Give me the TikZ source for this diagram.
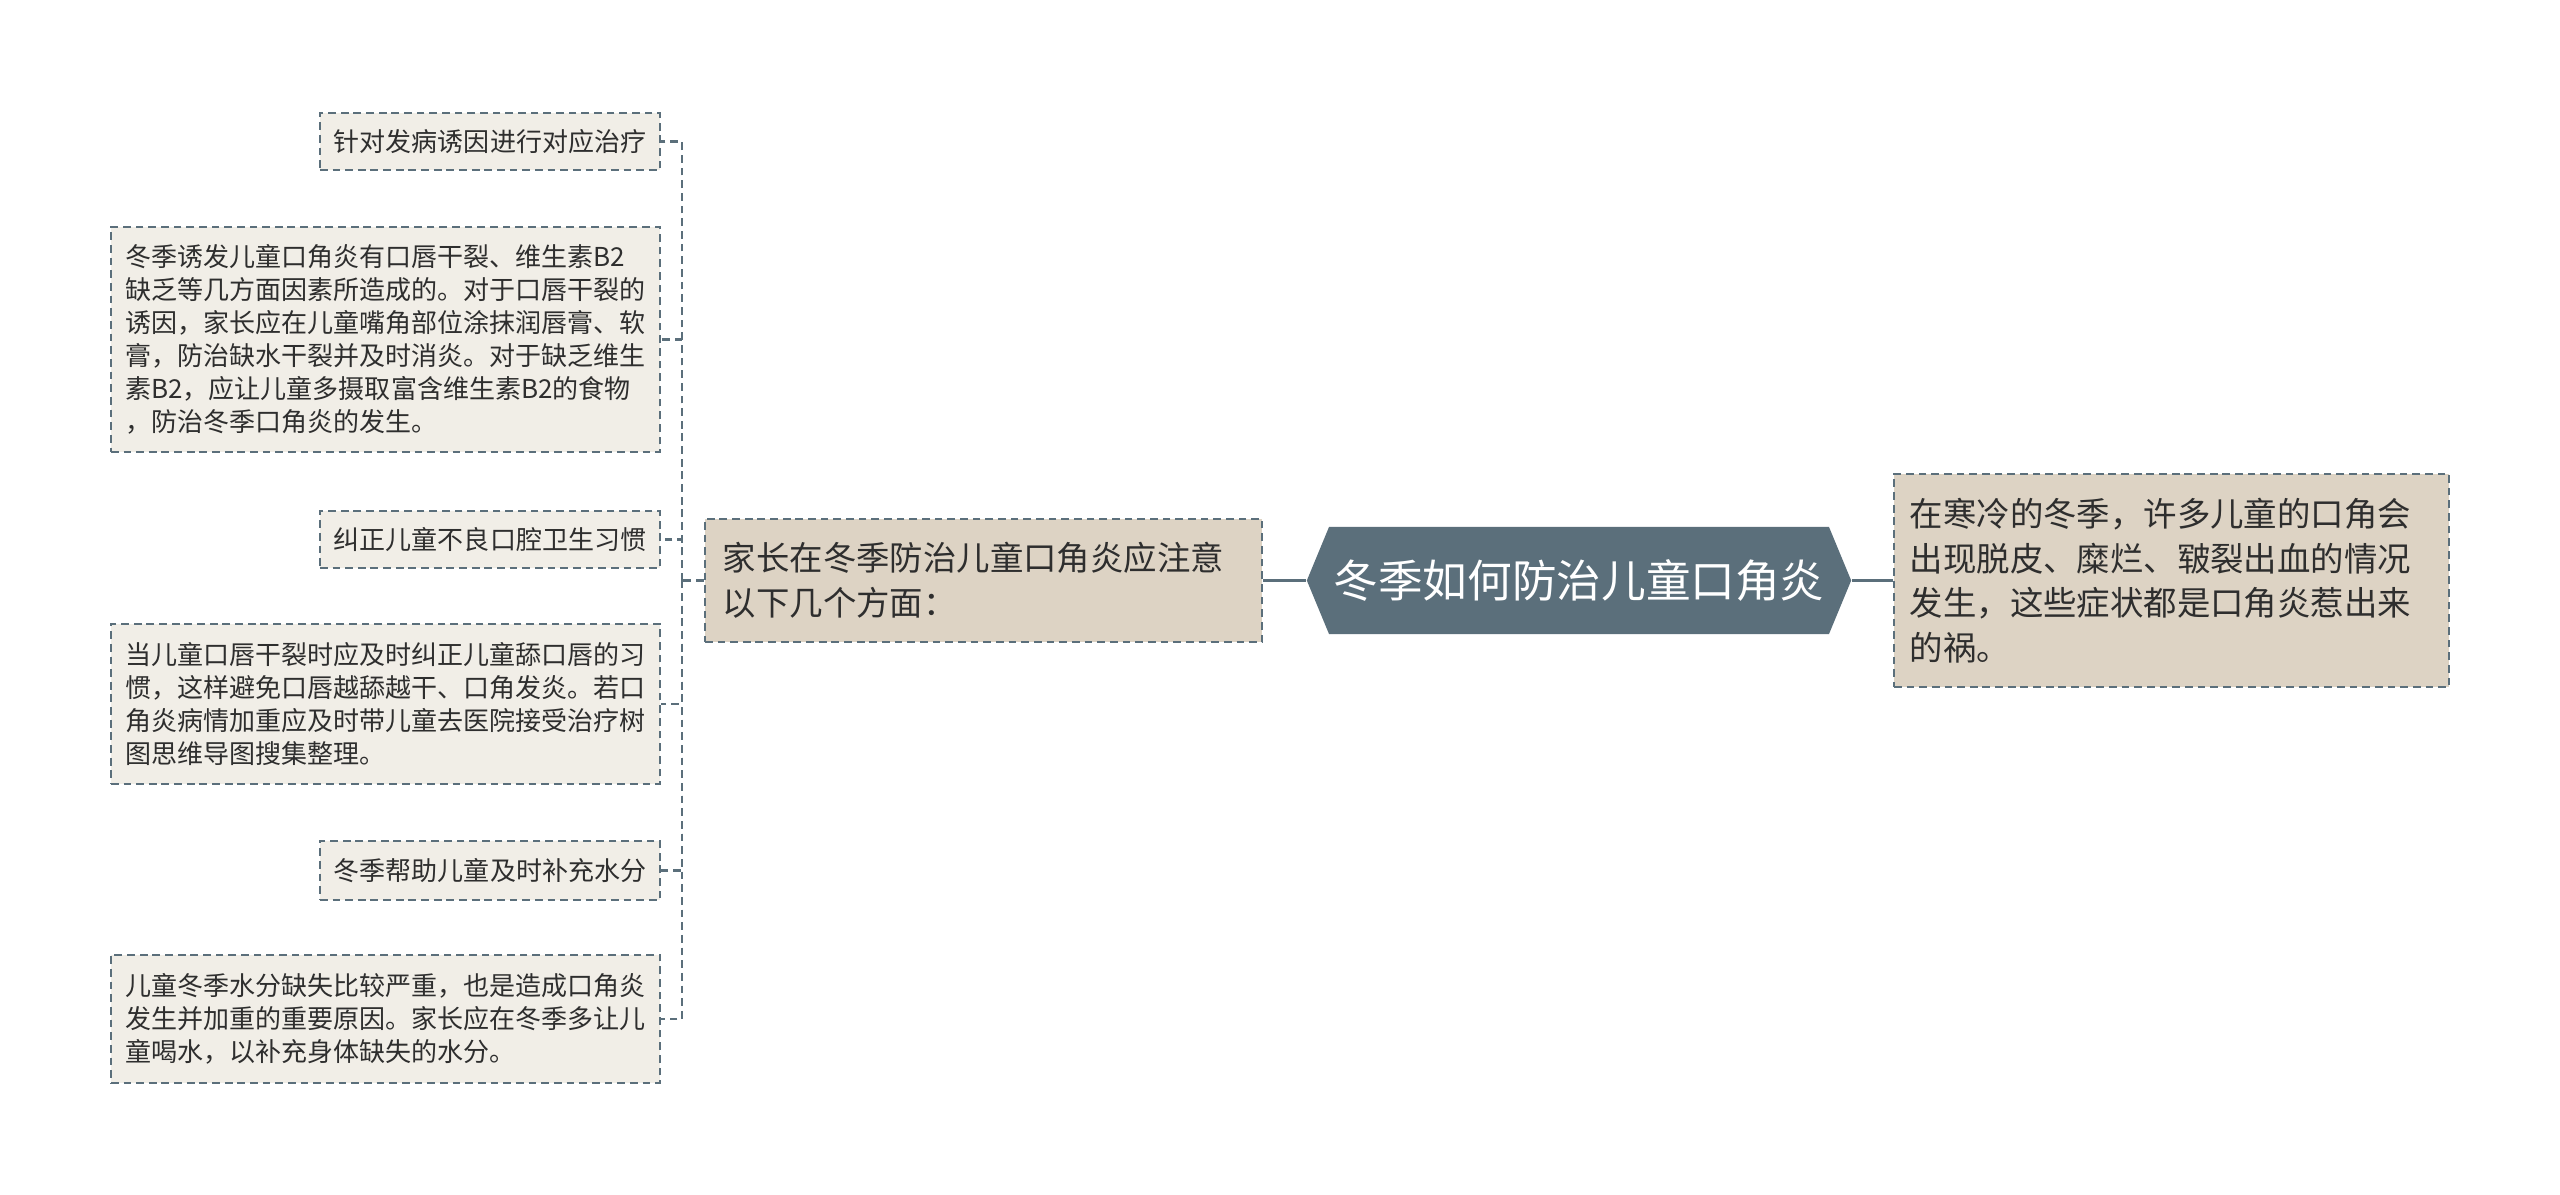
\documentclass[tikz,border=0pt]{standalone}
\usepackage{fontspec}
\setmainfont{Noto Sans CJK SC}
\usetikzlibrary{shapes.symbols}
\definecolor{slate}{HTML}{5B6F7B}
\definecolor{sand}{HTML}{DDD3C4}
\definecolor{paper}{HTML}{F1EEE7}
\definecolor{ink}{HTML}{2E2E2E}

\begin{document}
\begin{tikzpicture}[x=0.01cm,y=-0.01cm,
    box/.style={draw=slate,line width=0.6pt,dash pattern=on 2.2pt off 1.4pt,
      text=ink,align=left,inner ysep=0pt},
    leaf/.style={box,fill=paper,inner xsep=0.14cm,
      font=\fontsize{7.4pt}{9.4pt}\selectfont},
    topic/.style={box,fill=sand,font=\fontsize{9.5pt}{12.7pt}\selectfont},
    link/.style={draw=slate,line width=0.6pt,dash pattern=on 2.2pt off 1.4pt},
    trunk/.style={draw=slate,line width=0.9pt}]
    \fill[white] (0,0) rectangle (2560,1195);
    \useasboundingbox (0,0) rectangle (2560,1195);

    \node[signal,signal to=west and east,signal pointer angle=135,fill=slate,
      text=white,minimum width=5.44cm,minimum height=1.07cm,inner sep=0pt,
      font=\fontsize{12.7pt}{15pt}\selectfont] (root) at (1579,580.5) {冬季如何防治儿童口角炎};

    \node[topic,text width=5.21cm,inner xsep=0.18cm,minimum height=1.23cm] (mid) at (983.5,580.5)
      {家长在冬季防治儿童口角炎应注意\\以下几个方面：};
    \node[topic,text width=5.23cm,inner xsep=0.16cm,minimum height=2.13cm] (rt) at (2171.5,580.5)
      {在寒冷的冬季，许多儿童的口角会\\出现脱皮、糜烂、皲裂出血的情况\\发生，这些症状都是口角炎惹出来\\的祸。};

    \node[leaf,minimum width=3.40cm,minimum height=0.57cm] (l1) at (490,141.5) {针对发病诱因进行对应治疗};
    \node[leaf,minimum width=5.49cm,minimum height=2.25cm] (l2) at (385.5,339.5)
      {冬季诱发儿童口角炎有口唇干裂、维生素B2\\缺乏等几方面因素所造成的。对于口唇干裂的\\诱因，家长应在儿童嘴角部位涂抹润唇膏、软\\膏，防治缺水干裂并及时消炎。对于缺乏维生\\素B2，应让儿童多摄取富含维生素B2的食物\\，防治冬季口角炎的发生。};
    \node[leaf,minimum width=3.40cm,minimum height=0.57cm] (l3) at (490,539.5) {纠正儿童不良口腔卫生习惯};
    \node[leaf,minimum width=5.49cm,minimum height=1.60cm] (l4) at (385.5,704)
      {当儿童口唇干裂时应及时纠正儿童舔口唇的习\\惯，这样避免口唇越舔越干、口角发炎。若口\\角炎病情加重应及时带儿童去医院接受治疗树\\图思维导图搜集整理。};
    \node[leaf,minimum width=3.40cm,minimum height=0.59cm] (l5) at (490,870.5) {冬季帮助儿童及时补充水分};
    \node[leaf,minimum width=5.49cm,minimum height=1.28cm] (l6) at (385.5,1019)
      {儿童冬季水分缺失比较严重，也是造成口角炎\\发生并加重的重要原因。家长应在冬季多让儿\\童喝水，以补充身体缺失的水分。};

    \draw[trunk] (root.west) -- (mid.east);
    \draw[trunk] (root.east) -- (rt.west);

    \coordinate (j) at (682,580.5);
    \draw[link] (mid.west) -- (j);
    \foreach \n in {l1,l2,l3,l4,l5,l6}
        \draw[link] (j) |- (\n.east);
\end{tikzpicture}
\end{document}
